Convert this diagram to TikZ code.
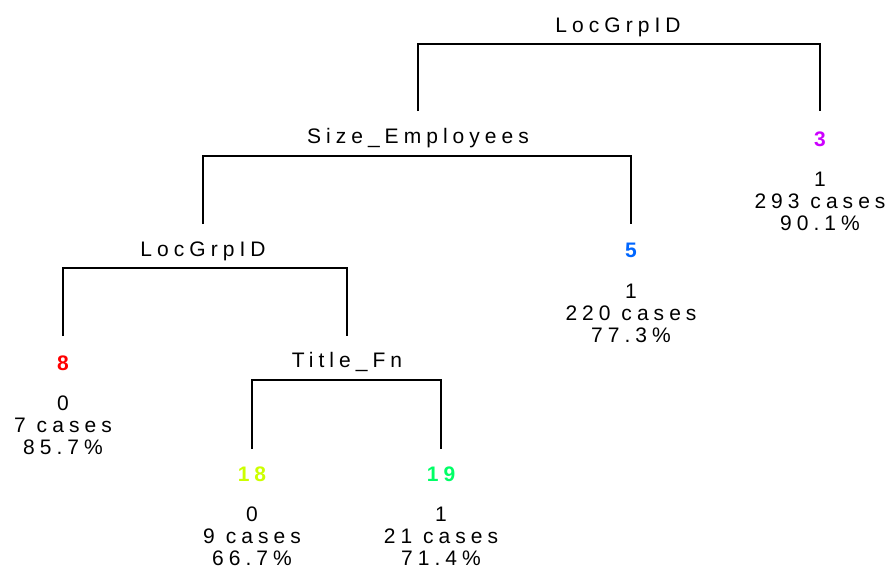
\documentclass[tikz,border=0pt]{standalone}
\usepackage{fontspec}
\setmainfont{Liberation Sans}[LetterSpace=24]
\definecolor{leafred}{RGB}{255,0,0}
\definecolor{leaflime}{RGB}{204,255,0}
\definecolor{leafgreen}{RGB}{0,255,102}
\definecolor{leafblue}{RGB}{0,102,255}
\definecolor{leafviolet}{RGB}{204,0,255}
\begin{document}
\begin{tikzpicture}[x=1pt,y=-1pt,
  every node/.style={inner sep=0pt, font=\fontsize{21}{22}\selectfont},
  split/.style={anchor=base},
  leafid/.style={anchor=base, text=#1, font=\fontsize{21}{22}\selectfont\bfseries},
  % anchored at the baseline of the last of the three lines
  leafinfo/.style={anchor=base, align=center},
  branch/.style={line width=1.2pt}]
\useasboundingbox (0,0) rectangle (890,571);

% split nodes
\node[split] (root)  at (618,32)  {LocGrpID};
\node[split] (size)  at (418,143) {Size\_Employees};
\node[split] (loc)   at (203,256) {LocGrpID};
\node[split] (title) at (347,367) {Title\_Fn};

% leaves
\node[leafid=leafviolet] (n3)  at (820,146) {3};
\node[leafinfo] (i3)  at (820,230) {1\\293 cases\\90.1\%};
\node[leafid=leafblue]   (n5)  at (631,257) {5};
\node[leafinfo] (i5)  at (631,342) {1\\220 cases\\77.3\%};
\node[leafid=leafred]    (n8)  at (63,370)  {8};
\node[leafinfo] (i8)  at (63,454)  {0\\7 cases\\85.7\%};
\node[leafid=leaflime]   (n18) at (252,481) {18};
\node[leafinfo] (i18) at (252,565) {0\\9 cases\\66.7\%};
\node[leafid=leafgreen]  (n19) at (441,481) {19};
\node[leafinfo] (i19) at (441,565) {1\\21 cases\\71.4\%};

% bracket bars and the level where the branches stop
\coordinate (rootbar)  at (0,44);  \coordinate (rootend)  at (0,111);
\coordinate (sizebar)  at (0,156); \coordinate (sizeend)  at (0,224);
\coordinate (locbar)   at (0,268); \coordinate (locend)   at (0,336);
\coordinate (titlebar) at (0,380); \coordinate (titleend) at (0,449);

\draw[branch] (size.north |- rootend) |- (rootbar -| size.north)
  -- (rootbar -| n3.north) -- (n3.north |- rootend);
\draw[branch] (loc.north |- sizeend) |- (sizebar -| loc.north)
  -- (sizebar -| n5.north) -- (n5.north |- sizeend);
\draw[branch] (n8.north |- locend) |- (locbar -| n8.north)
  -- (locbar -| title.north) -- (title.north |- locend);
\draw[branch] (n18.north |- titleend) |- (titlebar -| n18.north)
  -- (titlebar -| n19.north) -- (n19.north |- titleend);
\end{tikzpicture}
\end{document}
